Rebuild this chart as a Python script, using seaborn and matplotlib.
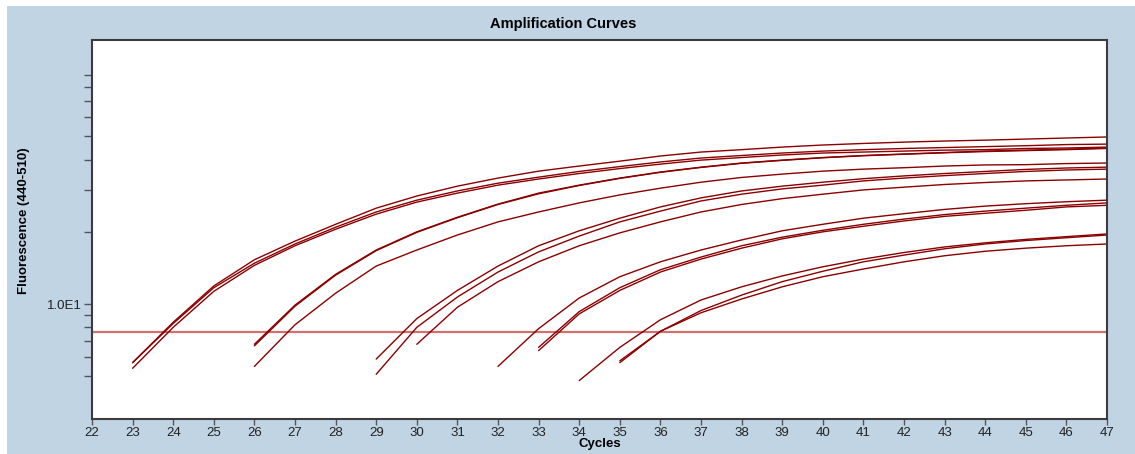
import numpy as np
import pandas as pd
import matplotlib
matplotlib.use("Agg")
import matplotlib.pyplot as plt
import seaborn as sns
from matplotlib.patches import Rectangle
from matplotlib.ticker import FixedLocator, FixedFormatter, NullFormatter

# Fluorescence, one value per cycle from the start cycle to 47
start_cycles = [23, 23, 23, 26, 26, 26, 29, 29, 30, 32, 33, 33, 34, 35, 35]

a1 = [5.7, 8.4, 11.9, 15.3, 18.3, 21.5, 25.1, 28.2, 31.0, 33.5, 35.8, 37.6, 39.4,
      41.4, 43.0, 44.0, 45.1, 46.0, 46.7, 47.3, 47.8, 48.2, 48.7, 49.2, 49.7]
a2 = [5.7, 8.3, 11.7, 14.8, 17.8, 20.9, 24.2, 27.1, 29.6, 31.9, 33.8, 35.7, 37.4,
      39.1, 40.6, 41.6, 42.6, 43.4, 44.0, 44.5, 44.9, 45.3, 45.7, 46.2, 46.4]
a3 = [5.4, 8.0, 11.3, 14.5, 17.5, 20.5, 23.7, 26.6, 29.0, 31.3, 33.2, 35.0, 36.7,
      38.3, 39.8, 40.8, 41.8, 42.6, 43.0, 43.4, 43.8, 44.0, 44.5, 44.7, 45.1]
b1 = [6.8, 9.9, 13.3, 16.8, 20.0, 23.0, 26.1, 29.0, 31.3, 33.5, 35.5, 37.2, 38.7,
      39.8, 40.8, 41.6, 42.2, 42.8, 43.4, 43.8, 44.2, 44.7]
b2 = [6.7, 9.8, 13.2, 16.7, 19.9, 22.9, 26.0, 28.8, 31.2, 33.4, 35.4, 37.1, 38.6,
      39.7, 40.7, 41.5, 42.1, 42.7, 43.2, 43.6, 44.0, 44.5]
b3 = [5.5, 8.2, 11.1, 14.4, 16.8, 19.4, 22.0, 24.2, 26.4, 28.5, 30.4, 32.2, 33.7,
      34.8, 35.8, 36.5, 37.0, 37.6, 38.0, 38.1, 38.5, 38.7]
c1 = [5.9, 8.7, 11.4, 14.4, 17.5, 20.2, 22.8, 25.4, 27.7, 29.6, 31.0, 32.2, 33.3,
      34.2, 35.0, 35.7, 36.4, 36.9, 37.2]
c2 = [5.1, 8.0, 10.7, 13.6, 16.5, 19.2, 22.0, 24.4, 26.9, 28.7, 30.2, 31.3, 32.6,
      33.5, 34.3, 35.0, 35.7, 36.2, 36.5]
c3 = [6.8, 9.7, 12.4, 15.0, 17.5, 19.8, 22.0, 24.2, 26.0, 27.5, 28.7, 29.9, 30.7,
      31.5, 32.1, 32.6, 32.9, 33.2]
d1 = [5.5, 7.9, 10.6, 13.0, 15.0, 16.8, 18.5, 20.2, 21.5, 22.8, 23.8, 24.8, 25.6,
      26.2, 26.7, 27.1]
d2 = [6.6, 9.3, 11.7, 13.9, 15.7, 17.5, 19.0, 20.3, 21.5, 22.6, 23.6, 24.4, 25.1,
      25.8, 26.4]
d3 = [6.4, 9.1, 11.4, 13.6, 15.4, 17.1, 18.7, 20.0, 21.1, 22.2, 23.2, 23.9, 24.6,
      25.4, 25.8]
e1 = [4.8, 6.6, 8.6, 10.4, 11.8, 13.1, 14.3, 15.4, 16.4, 17.3, 18.0, 18.6, 19.1, 19.6]
e2 = [5.7, 7.7, 9.4, 10.9, 12.4, 13.7, 15.0, 16.0, 17.0, 17.8, 18.4, 18.9, 19.4]
e3 = [5.8, 7.7, 9.2, 10.5, 11.8, 13.0, 14.0, 15.0, 15.9, 16.6, 17.1, 17.5, 17.8]

curves = [a1, a2, a3, b1, b2, b3, c1, c2, c3, d1, d2, d3, e1, e2, e3]
threshold = 7.65

x_ticks = list(range(22, 48))
y_minor_ticks = [5, 6, 7, 8, 9, 20, 30, 40, 50, 60, 70, 80, 90]

# Build long-form table
rows = []
for i, (start, vals) in enumerate(zip(start_cycles, curves)):
    for k, v in enumerate(vals):
        rows.append({"curve": i, "cycle": start + k, "fluorescence": v})
df = pd.DataFrame(rows)

sns.set_theme(style="white")
plt.rcParams["font.family"] = ["Liberation Sans", "DejaVu Sans"]

fig = plt.figure(figsize=(11.35, 4.54), dpi=100)
fig.patch.set_facecolor("white")
fig.patches.append(Rectangle((7 / 1135, 0), 1, 448 / 454, transform=fig.transFigure,
                             facecolor="#c1d4e4", edgecolor="none", zorder=-1))

ax = fig.add_axes([92 / 1135, 1 - 419 / 454, 1015 / 1135, 379 / 454])
ax.set_facecolor("white")

ax.axhline(threshold, color="#d07070", lw=1.6, zorder=1)
sns.lineplot(data=df, x="cycle", y="fluorescence", units="curve", estimator=None,
             color="#8b0000", lw=1.0, ax=ax, zorder=2)

ax.set_yscale("log")
ax.set_xlim(22, 47)
ax.set_ylim(3.32, 126)

ax.xaxis.set_major_locator(FixedLocator(x_ticks))
ax.set_xticklabels([str(t) for t in x_ticks])
ax.yaxis.set_major_locator(FixedLocator([10]))
ax.yaxis.set_major_formatter(FixedFormatter(["1.0E1"]))
ax.yaxis.set_minor_locator(FixedLocator(y_minor_ticks))
ax.yaxis.set_minor_formatter(NullFormatter())

ax.tick_params(axis="x", which="major", direction="out", length=4, width=1,
               color="#555555", labelsize=9.5, labelcolor="#222222", pad=2, bottom=True)
ax.tick_params(axis="y", which="both", direction="out", length=6, width=1,
               color="#555555", labelsize=9.5, labelcolor="#222222", pad=1, left=True)

for side in ["left", "bottom", "top", "right"]:
    ax.spines[side].set_color("#3c3c3c")
    ax.spines[side].set_linewidth(1.5)

ax.set_xlabel("Cycles", fontsize=9.5, fontweight="bold", labelpad=-1, color="black")
ax.set_ylabel("Fluorescence (440-510)", fontsize=9.5, fontweight="bold", color="black")
ax.yaxis.set_label_coords(-0.061, 0.522)
fig.text(563 / 1135, 1 - 24 / 454, "Amplification Curves", ha="center", va="center",
         fontsize=10.5, fontweight="bold", color="black")

plt.savefig("out.png", dpi=100)
